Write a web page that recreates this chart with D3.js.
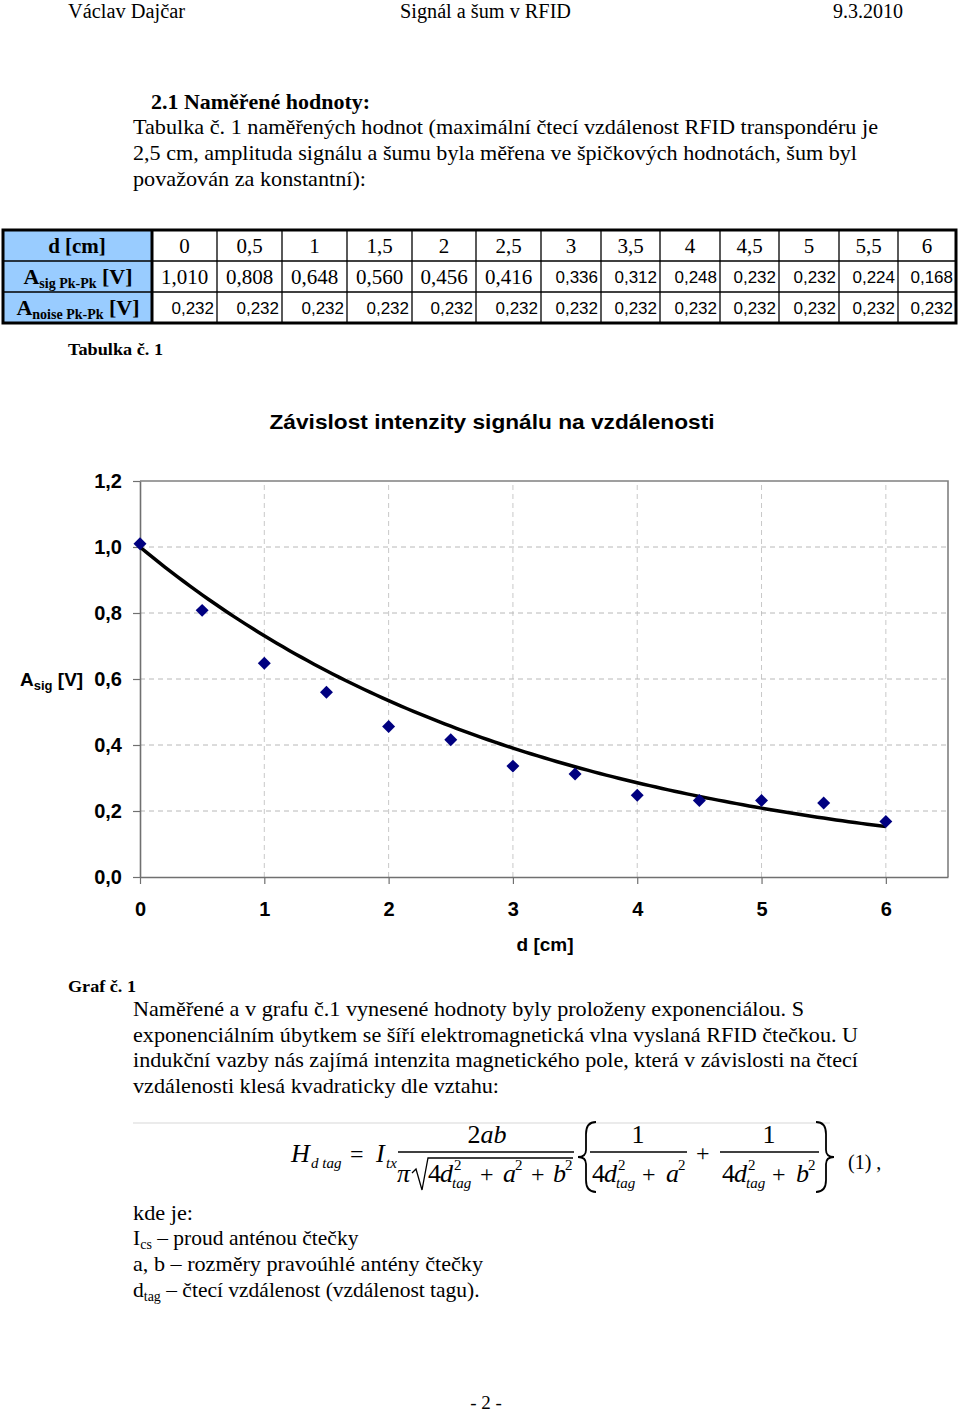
<!DOCTYPE html>
<html><head><meta charset="utf-8">
<script src="https://cdn.jsdelivr.net/npm/d3@7"></script>
<style>body{margin:0;background:#fff}svg{display:block}</style>
</head><body><svg id="page" width="960" height="1416"></svg>
<script>
// ---------- data ----------
const distances = [0, 0.5, 1, 1.5, 2, 2.5, 3, 3.5, 4, 4.5, 5, 5.5, 6];
const distanceLabels = ["0","0,5","1","1,5","2","2,5","3","3,5","4","4,5","5","5,5","6"];
const signal = [1.010, 0.808, 0.648, 0.560, 0.456, 0.416, 0.336, 0.312, 0.248, 0.232, 0.232, 0.224, 0.168];
const noise = [0.232, 0.232, 0.232, 0.232, 0.232, 0.232, 0.232, 0.232, 0.232, 0.232, 0.232, 0.232, 0.232];
const xTicks = [0, 1, 2, 3, 4, 5, 6];
const yTicks = [0, 0.2, 0.4, 0.6, 0.8, 1.0, 1.2];
const xDomain = [0, 6.5];
const yDomain = [0, 1.2];

// ---------- layout ----------
const SERIF = "Liberation Serif, Times New Roman, serif";
const SANS = "Liberation Sans, Arial, sans-serif";
const svg = d3.select("#page");
const loc = d3.formatLocale({decimal: ",", thousands: " ", grouping: [3], currency: ["", ""]});
const f3 = loc.format(".3f"), f1 = loc.format(".1f");

function text(x, y, s, o = {}) {
  const t = svg.append("text").attr("x", x).attr("y", y).text(s)
    .attr("font-family", o.family || SERIF).attr("font-size", o.size || 21)
    .attr("fill", "#000");
  if (o.bold) t.attr("font-weight", "bold");
  if (o.italic) t.attr("font-style", "italic");
  if (o.anchor) t.attr("text-anchor", o.anchor);
  if (o.len) t.attr("textLength", o.len).attr("lengthAdjust", "spacingAndGlyphs");
  return t;
}

// header
text(68, 18, "Václav Dajčar", {size: 20, len: 117});
text(400, 18, "Signál a šum v RFID", {size: 20, len: 171});
text(833, 18, "9.3.2010", {size: 20, len: 70});

text(151, 109, "2.1 Naměřené hodnoty:", {bold: true, size: 21, len: 219});
text(133, 134, "Tabulka č. 1 naměřených hodnot (maximální čtecí vzdálenost RFID transpondéru je", {len: 745});
text(133, 160, "2,5 cm, amplituda signálu a šumu byla měřena ve špičkových hodnotách, šum byl", {len: 724});
text(133, 186, "považován za konstantní):", {len: 233});

// ---------- table ----------
const colEdges = [3, 152, 217, 282, 347, 412, 476, 541, 601, 660, 720, 779, 839, 898, 956];
const rowEdges = [230, 261, 292, 323];
const tbl = svg.append("g");
tbl.append("rect").attr("x", colEdges[0]).attr("y", rowEdges[0])
  .attr("width", colEdges[1] - colEdges[0]).attr("height", rowEdges[3] - rowEdges[0]).attr("fill", "#99CCFF");
rowEdges.slice(1, 3).forEach(y => tbl.append("line").attr("x1", colEdges[0]).attr("x2", colEdges[14])
  .attr("y1", y).attr("y2", y).attr("stroke", "#000").attr("stroke-width", 1.3));
colEdges.slice(2, 14).forEach(x => tbl.append("line").attr("x1", x).attr("x2", x)
  .attr("y1", rowEdges[0]).attr("y2", rowEdges[3]).attr("stroke", "#000").attr("stroke-width", 1.3));
tbl.append("line").attr("x1", colEdges[1]).attr("x2", colEdges[1]).attr("y1", rowEdges[0]).attr("y2", rowEdges[3])
  .attr("stroke", "#000").attr("stroke-width", 3);
tbl.append("rect").attr("x", colEdges[0]).attr("y", rowEdges[0])
  .attr("width", colEdges[14] - colEdges[0]).attr("height", rowEdges[3] - rowEdges[0])
  .attr("fill", "none").attr("stroke", "#000").attr("stroke-width", 3);

text(77, 253, "d [cm]", {bold: true, size: 21, anchor: "middle"});
{
  const t = text(78, 284, "", {bold: true, size: 22, anchor: "middle"});
  t.append("tspan").text("A");
  t.append("tspan").text("sig Pk-Pk").attr("font-size", 14).attr("dy", 4);
  t.append("tspan").text(" [V]").attr("dy", -4);
  const t2 = text(78, 315, "", {bold: true, size: 22, anchor: "middle"});
  t2.append("tspan").text("A");
  t2.append("tspan").text("noise Pk-Pk").attr("font-size", 14).attr("dy", 4);
  t2.append("tspan").text(" [V]").attr("dy", -4);
}
distances.forEach((d, i) => {
  const x0 = colEdges[i + 1], x1 = colEdges[i + 2], cx = (x0 + x1) / 2;
  text(cx, 253, distanceLabels[i], {size: 21, anchor: "middle"});
  if (i < 6) text(cx, 284, f3(signal[i]), {size: 21, anchor: "middle"});
  else text(x1 - 3, 283, f3(signal[i]), {size: 17, family: SANS, anchor: "end"});
  text(x1 - 3, 314, f3(noise[i]), {size: 17, family: SANS, anchor: "end"});
});
text(68, 355, "Tabulka č. 1", {bold: true, size: 17, len: 95});

// ---------- chart ----------
const x = d3.scaleLinear().domain(xDomain).range([140, 948]);
const y = d3.scaleLinear().domain(yDomain).range([877, 481]);
const ch = svg.append("g");
text(492, 429, "Závislost intenzity signálu na vzdálenosti", {bold: true, size: 21, family: SANS, anchor: "middle", len: 445});

ch.append("g").selectAll("line").data(xTicks.filter(v => v > 0)).join("line")
  .attr("x1", d => x(d)).attr("x2", d => x(d)).attr("y1", y(yDomain[0])).attr("y2", y(yDomain[1]))
  .attr("stroke", "#c8c8c8").attr("stroke-width", 1).attr("stroke-dasharray", "5,4");
ch.append("g").selectAll("line").data(yTicks.filter(v => v > 0 && v < yDomain[1])).join("line")
  .attr("x1", x(xDomain[0])).attr("x2", x(xDomain[1])).attr("y1", d => y(d)).attr("y2", d => y(d))
  .attr("stroke", "#b8b8b8").attr("stroke-width", 1).attr("stroke-dasharray", "5,4");
ch.append("path").attr("d", `M${x(xDomain[0])},${y(yDomain[1])}H${x(xDomain[1])}V${y(yDomain[0])}`)
  .attr("fill", "none").attr("stroke", "#808080").attr("stroke-width", 1.6);

const yAxis = ch.append("g").attr("transform", `translate(${x(0)},0)`)
  .call(d3.axisLeft(y).tickValues(yTicks).tickFormat(f1).tickSize(7).tickSizeOuter(0).tickPadding(11));
const xAxis = ch.append("g").attr("transform", `translate(0,${y(0)})`)
  .call(d3.axisBottom(x).tickValues(xTicks).tickFormat(d3.format("d")).tickSize(7).tickSizeOuter(0).tickPadding(18));
[yAxis, xAxis].forEach(a => {
  a.select(".domain").attr("stroke", "#707070").attr("stroke-width", 1.6);
  a.selectAll(".tick line").attr("stroke", "#707070").attr("stroke-width", 1.2);
  a.selectAll(".tick text").attr("font-family", SANS).attr("font-size", 20).attr("font-weight", "bold").attr("fill", "#000");
});

text(545, 951, "d [cm]", {bold: true, size: 19, family: SANS, anchor: "middle"});
{
  const t = text(20, 686, "", {bold: true, size: 19, family: SANS});
  t.append("tspan").text("A");
  t.append("tspan").text("sig").attr("font-size", 13).attr("dy", 4);
  t.append("tspan").text(" [V]").attr("dy", -4);
}

// exponential trendline (Excel-style least squares fit with intercept fixed at 1)
const sxl = d3.sum(distances, (d, i) => d * Math.log(signal[i]));
const sxx = d3.sum(distances, d => d * d);
const k = sxl / sxx;
const trendX = d3.range(0, 6.0001, 0.05);
ch.append("path").datum(trendX)
  .attr("d", d3.line().x(d => x(d)).y(d => y(Math.exp(k * d))))
  .attr("fill", "none").attr("stroke", "#000").attr("stroke-width", 3.5);

ch.append("g").selectAll("path").data(distances).join("path")
  .attr("d", d3.symbol(d3.symbolSquare, 84)())
  .attr("transform", (d, i) => `translate(${x(d)},${y(signal[i])}) rotate(45)`)
  .attr("fill", "#000080");

// ---------- text after chart ----------
text(68, 992, "Graf č. 1", {bold: true, size: 17, len: 68});
text(133, 1016, "Naměřené a v grafu č.1 vynesené hodnoty byly proloženy exponenciálou. S", {len: 671});
text(133, 1042, "exponenciálním úbytkem se šíří elektromagnetická vlna vyslaná RFID čtečkou. U", {len: 725});
text(133, 1067, "indukční vazby nás zajímá intenzita magnetického pole, která v závislosti na čtecí", {len: 725});
text(133, 1093, "vzdálenosti klesá kvadraticky dle vztahu:", {len: 366});

// ---------- formula ----------
svg.append("line").attr("x1", 133).attr("x2", 830).attr("y1", 1123).attr("y2", 1123)
  .attr("stroke", "#e4e4e4").attr("stroke-width", 1.5);
const F = 26, S = 15;
const it = (x0, y0, s, sz = F) => text(x0, y0, s, {size: sz, italic: true});
const up = (x0, y0, s, sz = F) => text(x0, y0, s, {size: sz});
const bar = (x1, x2, yy) => svg.append("line").attr("x1", x1).attr("x2", x2).attr("y1", yy).attr("y2", yy)
  .attr("stroke", "#000").attr("stroke-width", 1.3);
it(291, 1162, "H");
it(311, 1168, "d tag", S);
up(350, 1162, "=", 24);
it(376, 1162, "I");
it(386, 1168, "tx", S);
bar(398, 574, 1152);
{
  const t = text(487, 1143, "", {size: F, anchor: "middle"});
  t.append("tspan").text("2");
  t.append("tspan").text("ab").attr("font-style", "italic");
}
it(397, 1182, "π");
svg.append("path").attr("d", "M412,1173 L416,1169 L422,1190 L428,1158 L573,1158")
  .attr("fill", "none").attr("stroke", "#000").attr("stroke-width", 1.3);
function dterm(x0, yb) {
  up(x0, yb, "4");
  it(x0 + 12, yb, "d");
  up(x0 + 26, yb - 12, "2", S);
  it(x0 + 24, yb + 6, "tag", S);
}
dterm(428, 1182);
up(480, 1182, "+", 24);
it(503, 1182, "a"); up(515, 1170, "2", S);
up(531, 1182, "+", 24);
it(553, 1182, "b"); up(565, 1170, "2", S);

const brace = (xe, xm, dir) => svg.append("path").attr("d",
  `M${xe},1122 Q${xm},1122 ${xm},1134 L${xm},1150 Q${xm},1157 ${xm - 8 * dir},1157 Q${xm},1157 ${xm},1164 L${xm},1180 Q${xm},1192 ${xe},1192`)
  .attr("fill", "none").attr("stroke", "#000").attr("stroke-width", 1.8);
brace(596, 586, 1);
brace(816, 826, -1);

text(638, 1143, "1", {size: F, anchor: "middle"});
bar(590, 687, 1152);
dterm(592, 1182);
up(642, 1182, "+", 24);
it(666, 1182, "a"); up(678, 1170, "2", S);
up(696, 1161, "+", 24);
text(769, 1143, "1", {size: F, anchor: "middle"});
bar(720, 819, 1152);
dterm(722, 1182);
up(772, 1182, "+", 24);
it(796, 1182, "b"); up(808, 1170, "2", S);
up(848, 1169, "(1) ,", 20);

// ---------- symbols ----------
text(133, 1220, "kde je:", {len: 60});
{
  const t = text(133, 1245, "", {size: 21.5});
  t.append("tspan").text("I");
  t.append("tspan").text("cs").attr("font-size", 14).attr("dy", 4);
  t.append("tspan").text(" – proud anténou čtečky").attr("dy", -4);
}
text(133, 1271, "a, b – rozměry pravoúhlé antény čtečky", {len: 350});
{
  const t = text(133, 1297, "", {size: 21.5});
  t.append("tspan").text("d");
  t.append("tspan").text("tag").attr("font-size", 14).attr("dy", 4);
  t.append("tspan").text(" – čtecí vzdálenost (vzdálenost tagu).").attr("dy", -4);
}
text(486, 1409, "- 2 -", {size: 19, anchor: "middle"});
</script>
</body></html>
